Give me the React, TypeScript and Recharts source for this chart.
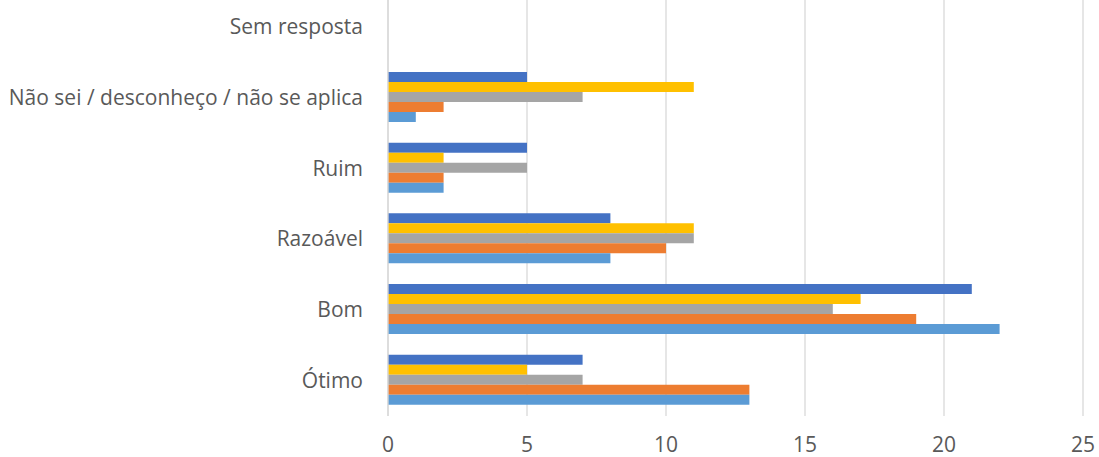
import { BarChart, Bar, XAxis, YAxis, CartesianGrid } from "recharts";

const categories = [
  "Sem resposta",
  "Não sei / desconheço / não se aplica",
  "Ruim",
  "Razoável",
  "Bom",
  "Ótimo",
];
const serie1 = [0, 1, 2, 8, 22, 13];
const serie2 = [0, 2, 2, 10, 19, 13];
const serie3 = [0, 7, 5, 11, 16, 7];
const serie4 = [0, 11, 2, 11, 17, 5];
const serie5 = [0, 5, 5, 8, 21, 7];
const xTicks = [0, 5, 10, 15, 20, 25];

const data = categories.map((name, i) => ({
  name,
  s1: serie1[i],
  s2: serie2[i],
  s3: serie3[i],
  s4: serie4[i],
  s5: serie5[i],
}));

const FONT = "'Open Sans', 'Noto Sans', sans-serif";
const TEXT = "#595959";

const YTick = ({ x, y, payload }: any) => (
  <text x={x - 17} y={y} dy={7} textAnchor="end" fill={TEXT} fontSize={21} fontFamily={FONT}>
    {payload.value}
  </text>
);

const XTick = ({ x, y, payload }: any) => (
  <text x={x} y={y} dy={28} textAnchor="middle" fill={TEXT} fontSize={21} fontFamily={FONT}>
    {payload.value}
  </text>
);

export default function App() {
  return (
    <div style={{ position: "absolute", left: 0, top: -8, width: 1099, height: 465, background: "#fff" }}>
      <BarChart
        width={1099}
        height={465}
        data={data}
        layout="vertical"
        margin={{ top: 0, right: 16, bottom: 0, left: 0 }}
        barCategoryGap="13.2%"
        barGap={0}
      >
        <CartesianGrid horizontal={false} stroke="#d9d9d9" strokeWidth={1.3} />
        <XAxis
          type="number"
          domain={[0, 25]}
          ticks={xTicks}
          axisLine={false}
          tickLine={false}
          height={41}
          tick={<XTick />}
          interval={0}
        />
        <YAxis
          type="category"
          dataKey="name"
          width={388}
          axisLine={{ stroke: "#d9d9d9", strokeWidth: 1.3 }}
          tickLine={false}
          tick={<YTick />}
          interval={0}
        />
        <Bar dataKey="s5" name="Série 5" fill="#4472C4" isAnimationActive={false} />
        <Bar dataKey="s4" name="Série 4" fill="#FFC000" isAnimationActive={false} />
        <Bar dataKey="s3" name="Série 3" fill="#A5A5A5" isAnimationActive={false} />
        <Bar dataKey="s2" name="Série 2" fill="#ED7D31" isAnimationActive={false} />
        <Bar dataKey="s1" name="Série 1" fill="#5B9BD5" isAnimationActive={false} />
      </BarChart>
    </div>
  );
}
